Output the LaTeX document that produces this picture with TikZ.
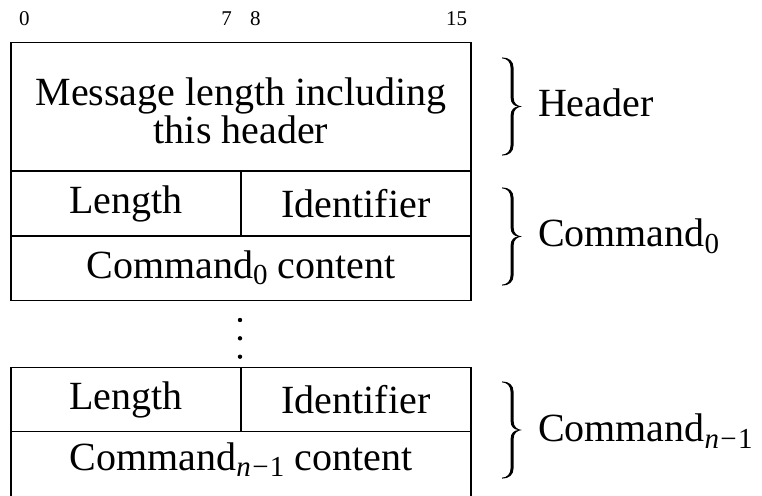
\documentclass[tikz,border=0pt]{standalone}
\usepackage{fontspec}
\setmainfont{Liberation Serif}
% lowered, smaller text used for the command indices
\newcommand\lowsub[1]{\raisebox{-0.17em}{\fontsize{29}{29}\selectfont #1}}
\newcommand\nminus{\textit{n}\kern1.3pt−\kern1.3pt1}
\begin{document}
\begin{tikzpicture}[x=1pt,y=-1pt,line width=1.5pt,
  every node/.style={inner sep=0pt,outer sep=0pt},
  big/.style={font=\fontsize{40}{40}\selectfont},
  bitno/.style={font=\fontsize{21}{21}\selectfont,anchor=base},
  celltext/.style={big,anchor=center},
  linetext/.style={big,anchor=base},
  side/.style={big,anchor=base west},
  % a filled right curly brace of the given height, hung from its top end
  pics/sbrace/.style={code={
    \fill (0,-0.6) .. controls (7,-0.6) and (11.6,3) .. (11.6,10)
      -- (11.6,{#1/2-9}) .. controls (11.6,{#1/2-3}) and (15,{#1/2-0.6}) .. (20,{#1/2})
      .. controls (15,{#1/2+0.6}) and (11.6,{#1/2+3}) .. (11.6,{#1/2+9})
      -- (11.6,{#1-10}) .. controls (11.6,{#1-3}) and (7,{#1+0.6}) .. (0,{#1+0.6})
      -- (0,{#1-0.4}) .. controls (5,{#1-0.4}) and (8.6,{#1-4}) .. (8.6,{#1-10})
      -- (8.6,{#1/2+9}) .. controls (8.6,{#1/2+3}) and (12,{#1/2+0.4}) .. (16.5,{#1/2})
      .. controls (12,{#1/2-0.4}) and (8.6,{#1/2-3}) .. (8.6,{#1/2-9})
      -- (8.6,10) .. controls (8.6,4) and (5,0.4) .. (0,0.4) -- cycle;
  }}]
\useasboundingbox (0,0) rectangle (762,495);

% bit numbers above the frame
\node[bitno] (b0)  at (24.5,26)  {0};
\node[bitno] (b7)  at (226.6,26) {7};
\node[bitno] (b8)  at (255.4,26) {8};
\node[bitno] (b15) at (456.6,26) {15};

% header word
\draw (11,42.7) rectangle (471,171);
\node[linetext] (hdr1) at (241,105) {Message length including};
\node[linetext] (hdr2) at (241,143) {this header};

% first command
\draw (11,171) rectangle (471,300.7);
\draw (11,236) -- (471,236);
\draw (241,171) -- (241,236);
\node[celltext] (len0) at (126,203.5) {Length};
\node[celltext] (id0)  at (356,203.5) {Identifier};
\node[linetext] (body0) at (241,278) {Command\lowsub{0} content};

% ellipsis between commands
\fill (240,320) circle (2.2);
\fill (240,338.3) circle (2.2);
\fill (240,356.7) circle (2.2);

% last command
\draw (11,367.3) rectangle (471,496.5);
\draw (11,431.7) -- (471,431.7);
\draw (241,367.3) -- (241,431.7);
\node[celltext] (lenn) at (126,399.5) {Length};
\node[celltext] (idn)  at (356,399.5) {Identifier};
\node[linetext] (bodyn) at (241,470) {Command\lowsub{\nminus} content};

% group braces and their labels
\pic (hbrace) at (502,58) {sbrace=97};
\node[side] (lhdr) at (538,116.7) {Header};

\pic (cbrace) at (502,188) {sbrace=97};
\node[side] (lcmd0) at (538,246.7) {Command\lowsub{0}};

\pic (nbrace) at (502,382) {sbrace=96};
\node[side] (lcmdn) at (538,441.7) {Command\lowsub{\nminus}};
\end{tikzpicture}
\end{document}
